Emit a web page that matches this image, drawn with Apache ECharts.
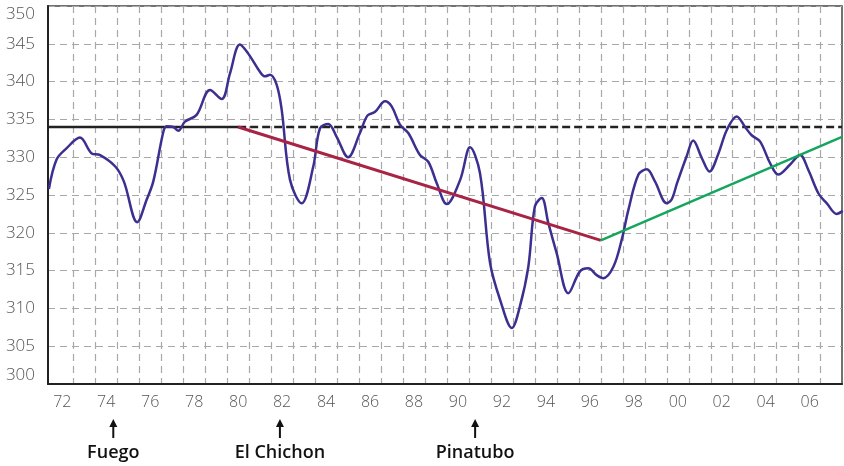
<!DOCTYPE html>
<html>
<head>
<meta charset="utf-8">
<script src="https://cdn.jsdelivr.net/npm/echarts@6/dist/echarts.min.js"></script>
<style>
html,body{margin:0;padding:0;background:#fff;}
#chart{width:844px;height:466px;}
</style>
</head>
<body>
<div id="chart"></div>
<script>
// ---- data ----
const years = [1971.39,1971.74,1972.2,1972.8,1973.34,1973.7,1974.4,1974.8,1975.41,1975.84,1976.14,1976.6,1976.75,1977.05,1977.28,1977.58,1978.11,1978.72,1979.25,1979.63,1980.08,1980.46,1980.99,1981.22,1981.45,1981.75,1981.98,1982.36,1982.89,1983.42,1983.72,1984.1,1984.48,1985.0,1985.54,1985.88,1986.23,1986.68,1986.99,1987.36,1987.74,1988.27,1988.65,1989.03,1989.49,1990.1,1990.55,1991.0,1991.46,1991.92,1992.45,1992.82,1993.2,1993.5,1993.81,1994.11,1994.49,1995.02,1995.55,1995.93,1996.31,1996.61,1997.07,1997.45,1997.75,1998.21,1998.59,1998.96,1999.5,1999.72,1999.97,2000.4,2000.7,2001.09,2001.44,2001.85,2002.23,2002.68,2003.06,2003.36,2003.74,2004.2,2004.57,2005.1,2005.56,2005.94,2006.4,2006.78,2007.23,2007.5];
const values = [325.8,329.7,331.2,332.6,330.5,330.3,328.8,326.8,321.4,324.4,326.8,333.4,334.1,334.0,333.5,334.7,335.6,338.9,337.7,341.1,344.9,343.7,341.3,340.7,340.9,339.6,336.3,327.0,323.9,328.8,333.8,334.4,332.7,330.0,333.2,335.5,336.0,337.4,336.7,334.3,333.2,330.3,329.4,326.6,323.8,327.0,331.3,327.9,316.0,311.1,307.4,310.3,315.5,323.5,324.6,321.3,317.3,312.0,314.9,315.3,314.4,314.0,315.5,319.1,323.0,327.7,328.4,326.8,323.9,324.4,326.6,330.1,332.2,329.9,328.1,330.5,333.6,335.4,334.0,332.9,332.1,329.2,327.7,329.0,330.3,328.3,325.2,323.9,322.5,322.9];

const xMin = 1971.35, xMax = 2007.47;
const baseYears = [1971.35, 1980];
const baseValues = [334, 334];
const dashYears = [1980, 2007.47];
const dashValues = [334, 334];
const declineYears = [1980, 1996.5];
const declineValues = [334, 319];
const riseYears = [1996.5, 2007.47];
const riseValues = [319, 332.7];

const labelYears = [1972,1974,1976,1978,1980,1982,1984,1986,1988,1990,1992,1994,1996,1998,2000,2002,2004,2006];
const tickLabels = ['72','74','76','78','80','82','84','86','88','90','92','94','96','98','00','02','04','06'];
const gridYears = [1972.5,1973.5,1974.5,1975.5,1976.5,1977.5,1978.5,1979.5,1980.5,1981.5,1982.5,1983.5,1984.5,1985.5,1986.5,1987.5,1988.5,1989.5,1990.5,1991.5,1992.5,1993.5,1994.5,1995.5,1996.5,1997.5,1998.5,1999.5,2000.5,2001.5,2002.5,2003.5,2004.5,2005.5,2006.5];

const eruptionNames = ['Fuego','El Chichon','Pinatubo'];
const eruptionYears = [1974.32, 1981.9, 1990.78];

function pairs(xs, ys){ return xs.map((x,i)=>[x, ys[i]]); }

const chart = echarts.init(document.getElementById('chart'), null, {renderer:'canvas'});
const option = {
  animation:false,
  backgroundColor:'#fff',
  grid:{left:48, right:2, top:6, bottom:82, show:true, borderColor:'#444', borderWidth:1.5, containLabel:false},
  xAxis:{
    type:'value', min:xMin, max:xMax,
    axisLine:{show:true, onZero:false, lineStyle:{color:'#222', width:2}},
    axisTick:{show:false, customValues:gridYears},
    axisLabel:{
      customValues:labelYears, margin:10,
      color:'#555', fontFamily:'Open Sans', fontSize:16, fontWeight:300,
      formatter:(v)=>{ const i = labelYears.indexOf(Math.round(v)); return i>=0 ? tickLabels[i] : ''; }
    },
    splitLine:{show:true, lineStyle:{color:'#a8a8a8', width:1.2, type:[7,5]}}
  },
  yAxis:{
    type:'value', min:300, max:350, interval:5,
    axisLine:{show:true, lineStyle:{color:'#222', width:2}},
    axisTick:{show:false},
    axisLabel:{margin:13, color:'#555', fontFamily:'Open Sans', fontSize:17, fontWeight:300,
      verticalAlignMaxLabel:'top', verticalAlignMinLabel:'bottom'},
    splitLine:{show:true, lineStyle:{color:'#a8a8a8', width:1.2, type:[7,5]}}
  },
  series:[
    {type:'line', data:pairs(baseYears, baseValues), symbol:'none', z:2,
     lineStyle:{color:'#222', width:2.5}},
    {type:'line', data:pairs(dashYears, dashValues), symbol:'none', z:2,
     lineStyle:{color:'#222', width:2.5, type:[8,4]}},
    {type:'line', data:pairs(years, values), symbol:'none', smooth:0.35, z:3,
     lineStyle:{color:'#3b2f8f', width:2.5}},
    {type:'line', data:pairs(declineYears, declineValues), symbol:'none', z:4,
     lineStyle:{color:'#a82444', width:3}},
    {type:'line', data:pairs(riseYears, riseValues), symbol:'none', z:4,
     lineStyle:{color:'#13a65c', width:2.5}}
  ]
};
chart.setOption(option);

const graphics = [];
eruptionYears.forEach((yr, i) => {
  const x = chart.convertToPixel({xAxisIndex:0}, yr);
  graphics.push({type:'line', shape:{x1:x, y1:426, x2:x, y2:438}, style:{stroke:'#111', lineWidth:2}});
  graphics.push({type:'polygon', shape:{points:[[x-4,427],[x+4,427],[x,419]]}, style:{fill:'#111'}});
  graphics.push({type:'text', x:x, y:453, style:{text:eruptionNames[i], fill:'#111', font:'600 18px "Open Sans"', align:'center', verticalAlign:'middle'}});
});
chart.setOption({graphic:graphics});
</script>
</body>
</html>
